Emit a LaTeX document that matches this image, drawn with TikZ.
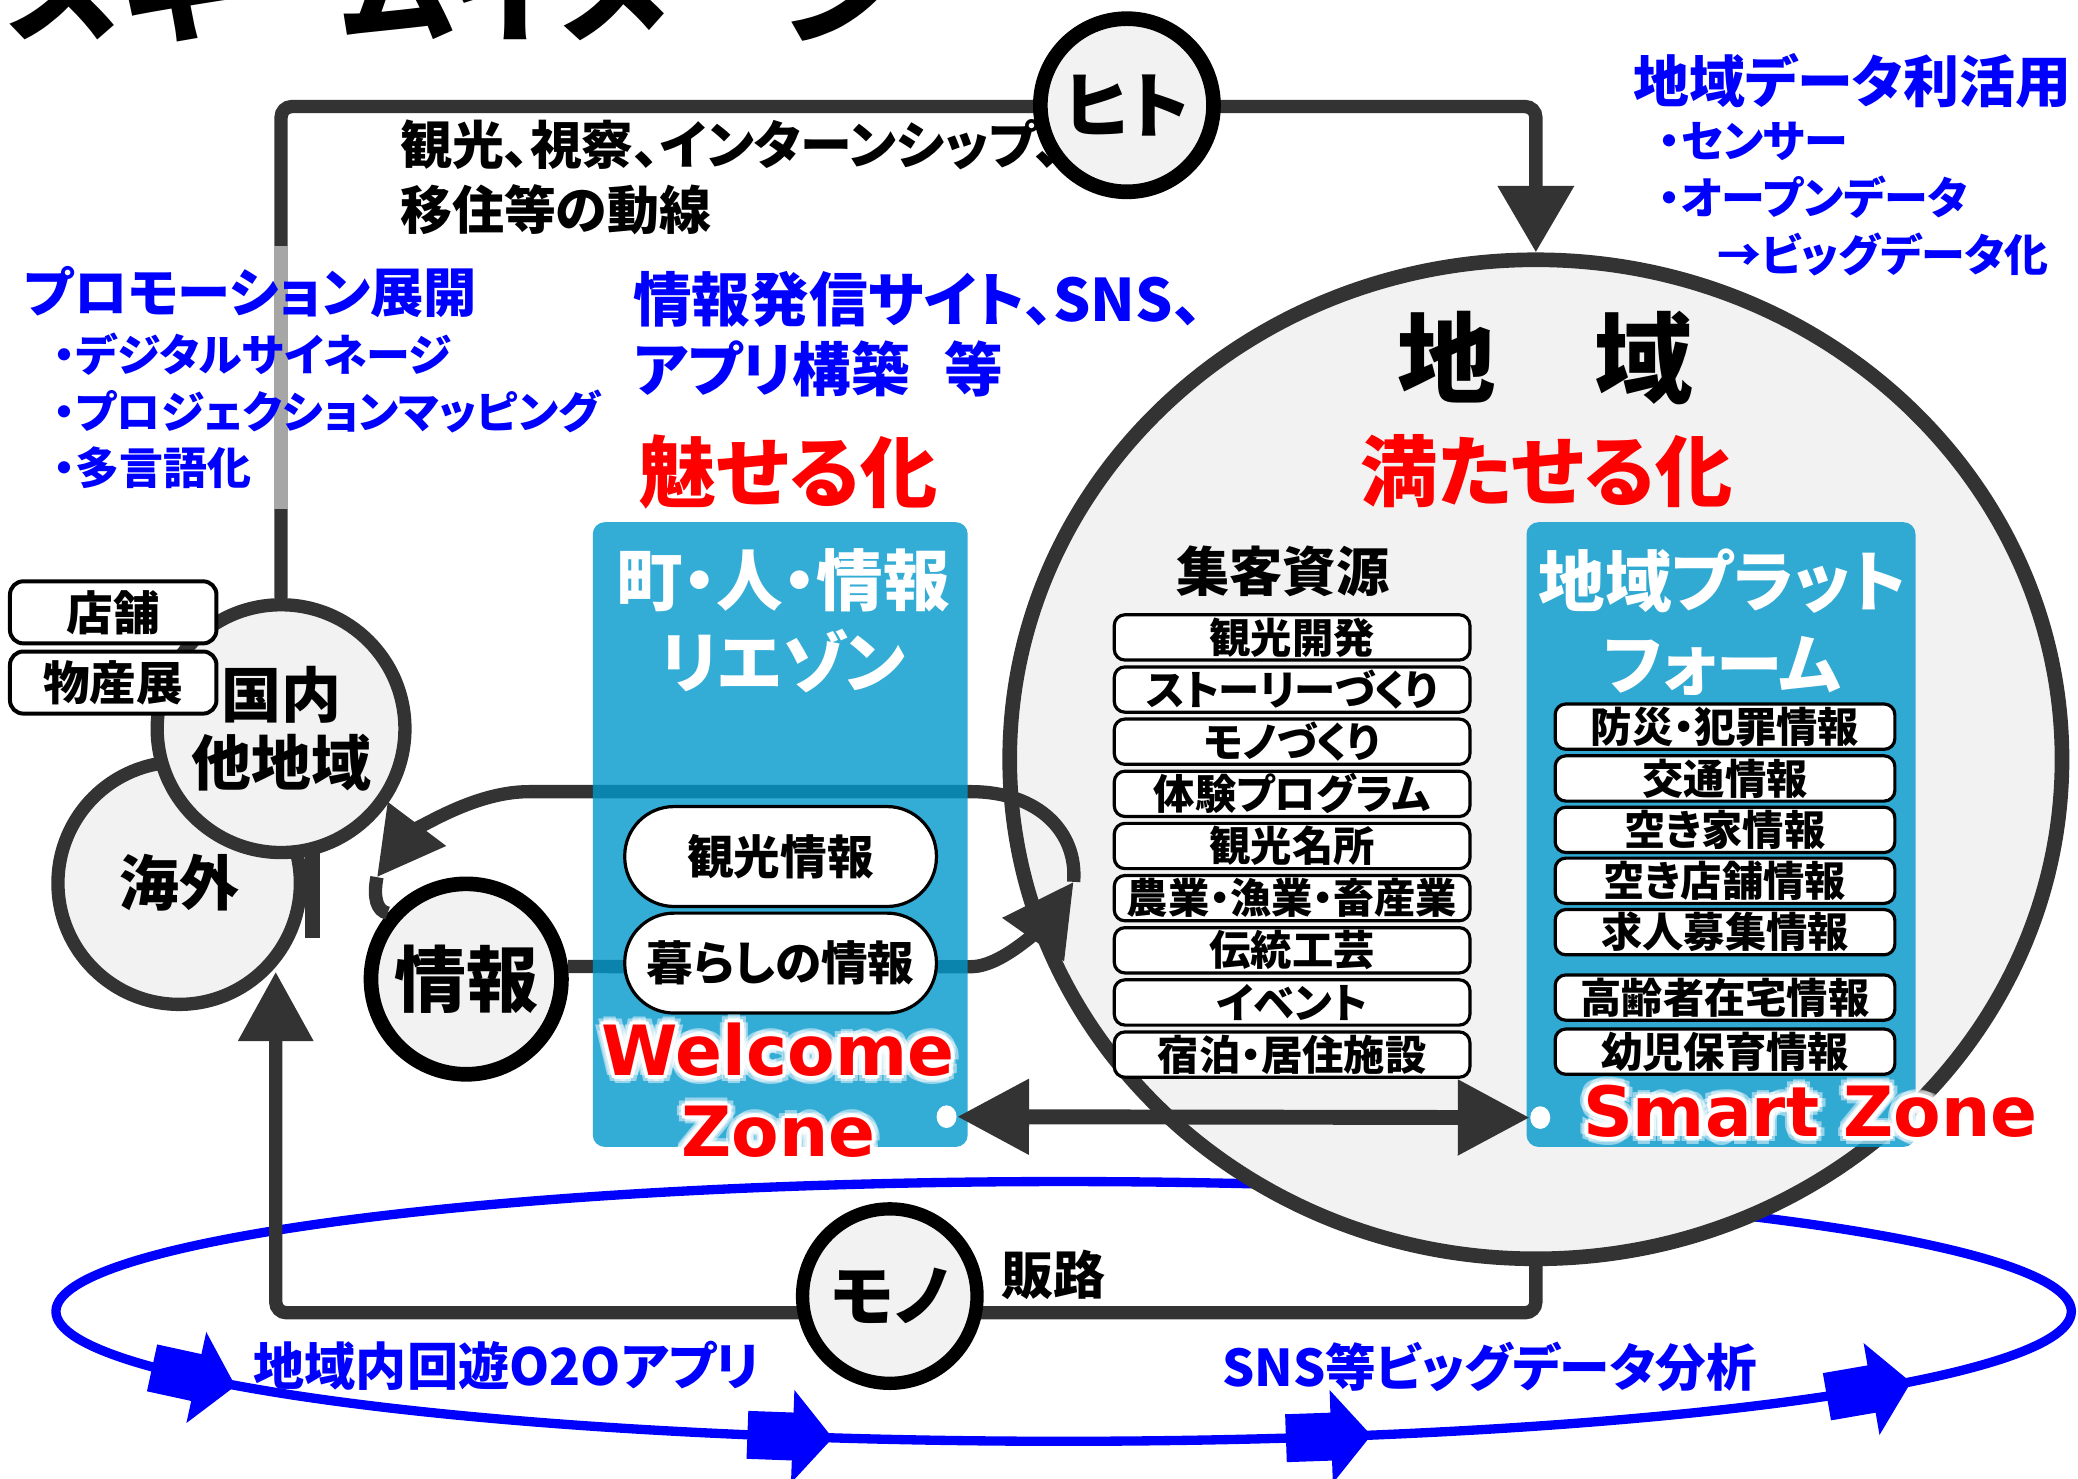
\documentclass[tikz,border=0pt]{standalone}
\usepackage{fontspec}
\setmainfont{Noto Sans CJK JP}[RawFeature=+palt]
\newfontfamily\zonefont{DejaVu Sans}
\usepackage{tikz}
\usetikzlibrary{arrows.meta,shapes.geometric}
\definecolor{ink}{HTML}{333333}
\definecolor{paper}{HTML}{F2F2F2}
\definecolor{lagoon}{HTML}{0097CC}
\newcommand{\fsz}[2]{\fontsize{#1}{#2}\selectfont}
\tikzstyle{Ring}=[circle, draw=ink, line width=5pt, fill=paper, inner sep=0pt, align=center, font=\bfseries\fsz{22.5pt}{25.3pt}]
\tikzstyle{BlackRing}=[Ring, draw=black, line width=5.5pt]
\tikzstyle{BigRing}=[ellipse, draw=ink, line width=5.5pt, fill=paper, inner sep=0pt, minimum width=395pt, minimum height=375pt]
\tikzstyle{Panel}=[rectangle, rounded corners=4.5pt, fill=lagoon, fill opacity=0.8, minimum height=234.5pt, inner sep=0pt]
\tikzstyle{PanelTitle}=[text=white, align=center, inner sep=0pt, font=\bfseries\fsz{25pt}{31pt}]
\tikzstyle{Item}=[rectangle, rounded corners=4pt, draw=black, line width=1.2pt, fill=white, minimum height=17pt, inner sep=0pt, font=\bfseries\fsz{15.5pt}{16pt}]
\tikzstyle{Pill}=[rectangle, rounded corners=18.5pt, draw=black, line width=1.2pt, fill=white, minimum width=117pt, minimum height=37.5pt, inner sep=0pt, font=\bfseries\fsz{17.5pt}{18pt}]
\tikzstyle{Tag}=[rectangle, rounded corners=5pt, draw=black, line width=1.5pt, fill=white, minimum width=77.5pt, minimum height=23.3pt, inner sep=0pt, font=\bfseries\fsz{17.5pt}{18pt}]
\tikzstyle{Loop}=[draw=ink, line width=5pt]
\tikzstyle{BlueLoop}=[draw=blue, line width=3.5pt]
\tikzstyle{BlueText}=[text=blue, inner sep=0pt, anchor=west, align=left]
\tikzstyle{RedText}=[text=red, inner sep=0pt, font=\bfseries\fsz{29pt}{29pt}]
\tikzstyle{ZoneText}=[text=red, inner sep=0pt, anchor=base, font=\zonefont\bfseries\fsz{26pt}{26pt}]
\tikzstyle{Dot}=[ellipse, fill=white, minimum width=7.5pt, minimum height=8.5pt, inner sep=0pt]

\begin{document}
\begin{tikzpicture}[x=0.5pt, y=-0.5pt]
    \useasboundingbox (0,0) rectangle (1560,1110.3);

    % blue loop under everything
    \draw[BlueLoop] (798.5,984.5) ellipse [x radius=756.5, y radius=97.5];
    \foreach \t/\r in {149.4/-12.3, 105.6/-2.1, 74.6/2.0, 36.7/9.8}
        \fill[blue, shift={({798.5+756.5*cos(\t)},{984.5+97.5*sin(\t)})}, rotate=\r]
            (-34,-18) rectangle (0,18) (0,-35) -- (30,0) -- (0,35) -- cycle;

    % region circle
    \node[BigRing] (region) at (1153,570) {};

    % left circles
    \node[Ring, minimum size=91pt] (overseas) at (134.5,663) {海外};
    \fill[ink] (229,636) rectangle (240,704);
    \node[Ring, minimum size=93pt] (domestic) at (211,547) {国内\\他地域};
    \node[Tag] (shop) at (85,459.7) {店舗};
    \node[Tag] (fair) at (85,512.4) {物産展};

    % people and goods loops
    \coordinate (topL) at (211,80);
    \coordinate (topR) at (1153,80);
    \coordinate (fadeA) at (211,185);
    \coordinate (fadeB) at (211,382);
    \coordinate (lowR) at (1153,985.5);
    \coordinate (lowL) at (207,985.5);
    \coordinate (ovtip) at (207,729.5);
    \draw[Loop, rounded corners=4pt, -{Triangle[length=25pt,width=27.5pt]}] (domestic.north) -- (topL) -- (topR) -- (region.north);
    \draw[line width=5.5pt, draw=black!35] (fadeA) -- (fadeB);
    \draw[Loop, rounded corners=4pt, -{Triangle[length=26pt,width=27pt]}] (region.south) -- (lowR) -- (lowL) -- (ovtip);
    \node[BlackRing, minimum size=65pt, font=\bfseries\fsz{27pt}{27pt}] (hito) at (846,79) {ヒト};
    \node[BlackRing, line width=5pt, minimum size=65.5pt, font=\bfseries\fsz{25pt}{25pt}] (mono) at (668,973) {モノ};
    \node[inner sep=0pt, font=\bfseries\fsz{19.5pt}{20pt}] (market) at (791,957) {販路};

    % information loop
    \node[BlackRing, minimum size=71.5pt, font=\bfseries\fsz{27pt}{27pt}] (info) at (350,735) {情報};
    \coordinate (rtip) at (806,662);
    \coordinate (ltip) at (283,658.5);
    \draw[Loop, -{Triangle[length=26.5pt,width=27pt]}] (info.7) -- (729,725.7) .. controls (755,725.7) and (787.6,688.2) .. (rtip);
    \draw[Loop, -{Triangle[length=25pt,width=26pt]}] (rtip) .. controls (809,625) and (780,594.3) .. (729,594.3) -- (397,594.3) .. controls (350,594.3) and (304,630.6) .. (ltip);
    \draw[Loop] (ltip) .. controls (280,674) and (283,684) .. (info.140);

    % panels
    \node[Panel, minimum width=140.75pt] (town) at (585.75,626.5) {};
    \node[Panel, minimum width=146pt] (platform) at (1292,626.5) {};
    \node[PanelTitle] (towntitle) at (588,466) {町・人・情報\\リエゾン};
    \node[PanelTitle] (plattitle) at (1293,467) {地域プラット\\フォーム};
    \node[Pill] (sightinfo) at (586,643) {観光情報};
    \node[Pill] (lifeinfo) at (586,723) {暮らしの情報};

    \node[inner sep=0pt, font=\bfseries\fsz{20pt}{20pt}] (resources) at (963,429) {集客資源};
    \foreach \txt [count=\i from 0] in {観光開発, ストーリーづくり, モノづくり, 体験プログラム, 観光名所, 農業・漁業・畜産業, 伝統工芸, イベント, 宿泊・居住施設}
        \node[Item, minimum width=133.5pt] (res\i) at (970,478.5+39.15*\i) {\txt};
    \foreach \txt/\y [count=\i] in {防災・犯罪情報/545.5, 交通情報/584.4, 空き家情報/623, 空き店舗情報/661.2, 求人募集情報/699.8, 高齢者在宅情報/748.9, 幼児保育情報/789.5}
        \node[Item, minimum width=127.5pt] (plat\i) at (1295,\y) {\txt};

    % link between the zones
    \node[Dot] (wdot) at (710.6,838.3) {};
    \node[Dot] (sdot) at (1156.3,839) {};
    \draw[ink, line width=5.6pt, {Triangle[length=27pt,width=27pt]}-{Triangle[length=27pt,width=27pt]}] (wdot.east) -- (sdot.west);

    % zone labels with a white halo
    \foreach \a in {0,45,...,315} {
        \node[ZoneText, text=white, text opacity=0.5, shift={(\a:6)}] at (584,807.5) {Welcome};
        \node[ZoneText, text=white, text opacity=0.5, shift={(\a:6)}] at (584.5,868.5) {Zone};
        \node[ZoneText, text=white, text opacity=0.5, shift={(\a:6)}] at (1359,853) {Smart Zone};
        \node[ZoneText, text=white, shift={(\a:3)}] at (584,807.5) {Welcome};
        \node[ZoneText, text=white, shift={(\a:3)}] at (584.5,868.5) {Zone};
        \node[ZoneText, text=white, shift={(\a:3)}] at (1359,853) {Smart Zone};
    }
    \node[ZoneText] (welcome) at (584,807.5) {Welcome};
    \node[ZoneText] (zone) at (584.5,868.5) {Zone};
    \node[ZoneText] (smart) at (1359,853) {Smart Zone};

    % texts
    \node[inner sep=0pt, anchor=base, font=\bfseries\fsz{45pt}{45pt}] (title) at (340,25) {スキームイメージ};
    \node[inner sep=0pt, anchor=west, align=left, font=\bfseries\fsz{19.5pt}{24.25pt}] (flow) at (300,133) {観光、視察、インターンシップ、\\移住等の動線};
    \node[BlueText, font=\bfseries\fsz{20pt}{24pt}] (promo) at (18,219.5) {プロモーション展開};
    \node[BlueText, font=\bfseries\fsz{16.5pt}{21.25pt}] (promolist) at (40,308.5) {・デジタルサイネージ\\・プロジェクションマッピング\\・多言語化};
    \node[BlueText, font=\bfseries\fsz{22pt}{26.25pt}] (site) at (475,251) {情報発信サイト、SNS、\\アプリ構築\hspace{0.6em}等};
    \node[BlueText, font=\bfseries\fsz{21pt}{26pt}] (datause) at (1226,60.5) {地域データ利活用};
    \node[BlueText, font=\bfseries\fsz{16.5pt}{21.4pt}] (datalist) at (1245,149.5) {・センサー\\・オープンデータ\\\hspace*{22pt}→ビッグデータ化};
    \node[RedText] (miseru) at (592,354) {魅せる化};
    \node[RedText] (mitaseru) at (1161,353.5) {満たせる化};
    \node[inner sep=0pt, font=\bfseries\fsz{37pt}{37pt}] (chiiki) at (1160,269) {地　域};
    \node[BlueText, font=\bfseries\fsz{19.2pt}{20pt}] (o2o) at (190,1025) {地域内回遊O2Oアプリ};
    \node[BlueText, font=\bfseries\fsz{19pt}{20pt}] (bigdata) at (917,1026) {SNS等ビッグデータ分析};
\end{tikzpicture}
\end{document}
